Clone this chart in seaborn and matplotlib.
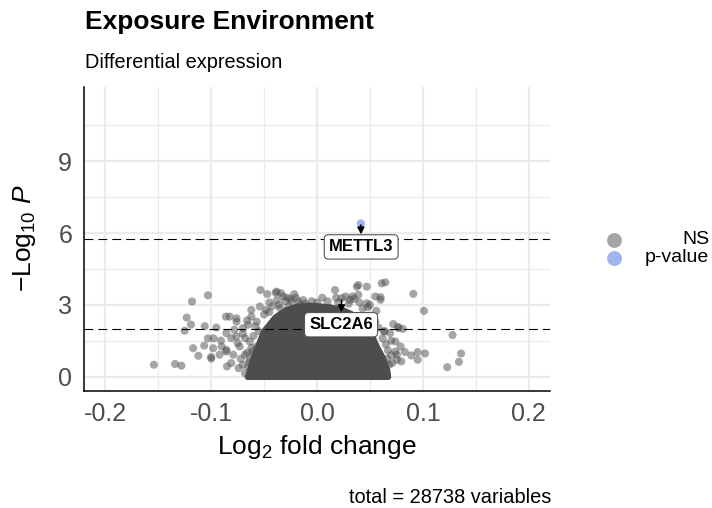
import numpy as np
import pandas as pd
import matplotlib
matplotlib.use("Agg")
import matplotlib.pyplot as plt
import seaborn as sns

# ---------------- data ----------------
# sparse, individually visible NS points: log2 fold change / -log10 p
ns_x = [-0.154, -0.134, -0.128, -0.118, -0.103, -0.123, -0.119, -0.125, -0.106, -0.095,
        -0.086, -0.103, -0.0976, -0.0907, -0.117, -0.1065, -0.098, -0.090, -0.0856, -0.112,
        -0.100, -0.0998, -0.092, -0.085, -0.0825, -0.076, -0.0856, -0.081, -0.0856, -0.081,
        -0.0534, -0.047, -0.038, -0.034, -0.032, -0.0215, -0.0177, -0.024, -0.039,
        -0.054, -0.062, -0.048, -0.035, -0.027, -0.008, -0.016, -0.0098,
        -0.076, -0.062, -0.057, -0.070, -0.078, -0.065,
        -0.076, -0.068, -0.0635, -0.057, -0.073,
        -0.079, -0.068, -0.070, -0.059, -0.052, -0.0635, -0.043, -0.074,
        0.0645, 0.039, 0.047, 0.017, 0.055, 0.060, 0.039, 0.0233, 0.031, 0.047,
        0.012, 0.0335, 0.060, 0.0376, 0.061,
        0.074, 0.079, 0.069, 0.063, 0.0755, 0.071, 0.0645, 0.077, 0.0765, 0.081,
        0.0755, 0.0796, 0.074,
        0.091, 0.101, 0.128, 0.136, 0.134, 0.123, 0.083, 0.089, 0.095, 0.095, 0.102,
        # points crowding the edge of the dense core
        -0.045, -0.042, -0.038, -0.036, -0.030, -0.028, -0.025, -0.020, -0.013, -0.011,
        -0.005, 0.000, -0.050, -0.045, -0.058, -0.055, -0.060, -0.062, -0.066, -0.060,
        -0.065, -0.072, -0.075, -0.070, -0.066,
        0.005, 0.010, 0.018, 0.020, 0.027, 0.030, 0.035, 0.040, 0.043, 0.048,
        0.052, 0.055, 0.058, 0.062, 0.065, 0.067, 0.066, 0.068, 0.060, 0.070,
        0.072, 0.050, 0.056,
        -0.068, -0.064, -0.061, 0.066, 0.070, 0.064]
ns_y = [0.50, 0.53, 0.46, 3.14, 3.40, 2.47, 2.18, 1.92, 2.11, 2.05,
        2.51, 1.60, 1.60, 1.51, 1.19, 1.30, 1.19, 1.26, 1.12, 0.875,
        0.82, 0.76, 0.92, 0.43, 2.51, 2.30, 1.82, 1.61, 1.05, 0.57,
        3.62, 3.45, 3.55, 3.49, 3.35, 3.45, 3.14, 3.14, 3.51,
        2.93, 2.79, 2.79, 2.86, 2.93, 2.79, 3.00, 2.86,
        2.44, 2.51, 2.30, 2.03, 1.96, 2.17,
        1.68, 1.61, 1.47, 1.26, 1.26,
        0.92, 0.92, 0.50, 0.29, 0.50, 0.71, 0.15, 0.36,
        3.94, 3.83, 3.76, 3.62, 3.35, 3.21, 3.42, 3.28, 3.21, 3.07,
        2.86, 3.35, 3.32, 3.76, 3.90,
        1.47, 1.26, 1.82, 1.89, 0.92, 0.57, 0.36, 2.03, 2.08, 2.00,
        0.71, 0.64, 1.05,
        3.46, 2.75, 1.74, 0.97, 0.62, 0.40, 1.03, 0.89, 1.03, 0.71, 0.97,
        3.10, 2.95, 3.20, 3.00, 3.15, 3.30, 3.25, 3.30, 3.20, 3.05,
        3.15, 3.10, 2.60, 2.70, 2.10, 1.90, 1.70, 1.20, 1.00, 0.90,
        0.40, 0.75, 1.40, 1.80, 2.35,
        3.30, 3.15, 3.30, 3.10, 3.35, 3.05, 3.25, 3.10, 2.85, 2.90,
        2.55, 2.30, 2.05, 1.60, 1.35, 1.10, 0.75, 0.50, 0.30, 1.50,
        2.20, 3.00, 2.75,
        0.15, 0.60, 1.05, 0.15, 0.90, 1.90]

# significant (p-value) point
sig_x = [0.0414]
sig_y = [6.40]

# upper envelope of the dense core of ~28,700 overlapping NS points
core_x = [-0.066, -0.062, -0.057, -0.051, -0.040, -0.030, -0.020, -0.008,
          0.008, 0.022, 0.032, 0.040, 0.050, 0.056, 0.062, 0.066, 0.067]
core_top = [0.0, 0.6, 1.2, 1.9, 2.5, 2.8, 2.95, 3.0,
            2.95, 2.85, 2.65, 2.4, 1.9, 1.3, 0.8, 0.3, 0.0]

# labelled genes: point and label position
lab_genes = ["METTL3", "SLC2A6"]
lab_px = [0.0414, 0.0233]
lab_py = [6.40, 3.28]
lab_tx = [0.0417, 0.0227]
lab_ty = [5.42, 2.17]

hlines = [-np.log10(0.05 / 28738), 2.0]
x_ticks = [-0.2, -0.1, 0.0, 0.1, 0.2]
y_ticks = [0, 3, 6, 9]
legend_labels = ["NS", "p-value"]
palette = {"NS": "#4d4d4d", "p-value": "royalblue"}

df = pd.DataFrame({
    "lfc": ns_x + sig_x,
    "p": ns_y + sig_y,
    "group": ["NS"] * len(ns_x) + ["p-value"] * len(sig_x),
})

# ---------------- figure ----------------
sns.set_theme(style="white")
plt.rcParams["font.family"] = ["Liberation Sans", "DejaVu Sans"]
plt.rcParams["text.color"] = "black"
plt.rcParams["mathtext.fontset"] = "custom"
plt.rcParams["mathtext.rm"] = "Liberation Sans"
plt.rcParams["mathtext.it"] = "Liberation Sans:italic"
plt.rcParams["mathtext.bf"] = "Liberation Sans:bold"

fig = plt.figure(figsize=(7.12, 5.08), dpi=100)
W, H = 712, 508
ax = fig.add_axes([84 / W, 1 - 390.5 / H, (550 - 84) / W, (390.5 - 87.5) / H])

# dense core
ax.fill_between(core_x, 0, core_top, color="#4d4d4d", edgecolor="#4d4d4d",
                linewidth=4, joinstyle="round", zorder=2)

sns.scatterplot(data=df, x="lfc", y="p", hue="group", palette=palette,
                alpha=0.5, s=34, linewidth=0, legend=False, ax=ax, zorder=3)

for h in hlines:
    ax.axhline(h, color="black", lw=0.8, ls=(0, (8, 4.5)), zorder=4)

for g, px_, py_, tx, ty in zip(lab_genes, lab_px, lab_py, lab_tx, lab_ty):
    ax.annotate(g, xy=(px_, py_), xytext=(tx, ty), ha="center", va="center",
                fontsize=12, fontweight="bold", color="black", zorder=6,
                bbox=dict(boxstyle="round,pad=0.28,rounding_size=0.25", fc="white",
                          ec="#555555", lw=0.8),
                arrowprops=dict(arrowstyle="<|-,head_length=0.35,head_width=0.18",
                                color="black", lw=1.0, shrinkA=0, shrinkB=1))

ax.set_xlim(-0.22, 0.22)
ax.set_ylim(-0.575, 12.075)
ax.set_xticks(x_ticks)
ax.set_xticklabels([f"{v:.1f}" for v in x_ticks])
ax.set_xticks([-0.15, -0.05, 0.05, 0.15], minor=True)
ax.set_yticks(y_ticks)
ax.set_yticklabels([str(v) for v in y_ticks])
ax.set_yticks([1.5, 4.5, 7.5, 10.5], minor=True)
ax.grid(which="major", color="#ebebeb", lw=1.6)
ax.grid(which="minor", color="#ebebeb", lw=0.9)
ax.set_axisbelow(True)
for s in ["top", "right"]:
    ax.spines[s].set_visible(False)
for s in ["left", "bottom"]:
    ax.spines[s].set_color("black")
    ax.spines[s].set_linewidth(1.1)
ax.tick_params(which="major", length=5.5, width=1.1, color="black",
               labelcolor="#4d4d4d", labelsize=18, pad=3)
ax.tick_params(which="minor", length=0)
ax.set_xlabel(r"Log$_2$ fold change", fontsize=19, color="black", labelpad=5)
ax.set_ylabel("")

fig.text(24 / W, 1 - 238 / H, r"$-\mathrm{Log}_{10}\ \mathit{P}$", rotation=90,
         ha="center", va="center", fontsize=19, color="black")
fig.text(85 / W, 1 - 29 / H, "Exposure Environment", fontsize=19,
         fontweight="bold", ha="left", va="baseline", color="black")
fig.text(85 / W, 1 - 68 / H, "Differential expression", fontsize=14.3,
         ha="left", va="baseline", color="black")
fig.text(551 / W, 1 - 503 / H, "total = 28738 variables", fontsize=14.4,
         ha="right", va="baseline", color="black")

# legend (overlay axes in pixel coordinates)
lax = fig.add_axes([0, 0, 1, 1], facecolor="none")
lax.set_xlim(0, W)
lax.set_ylim(H, 0)
lax.axis("off")
leg_y = [240, 258]
for lab, yy in zip(legend_labels, leg_y):
    lax.scatter([614], [yy], s=115, color=palette[lab], alpha=0.5, linewidth=0)
    lax.text(709, yy, lab, ha="right", va="center", fontsize=14, color="black")

fig.savefig("out.png", dpi=100)
